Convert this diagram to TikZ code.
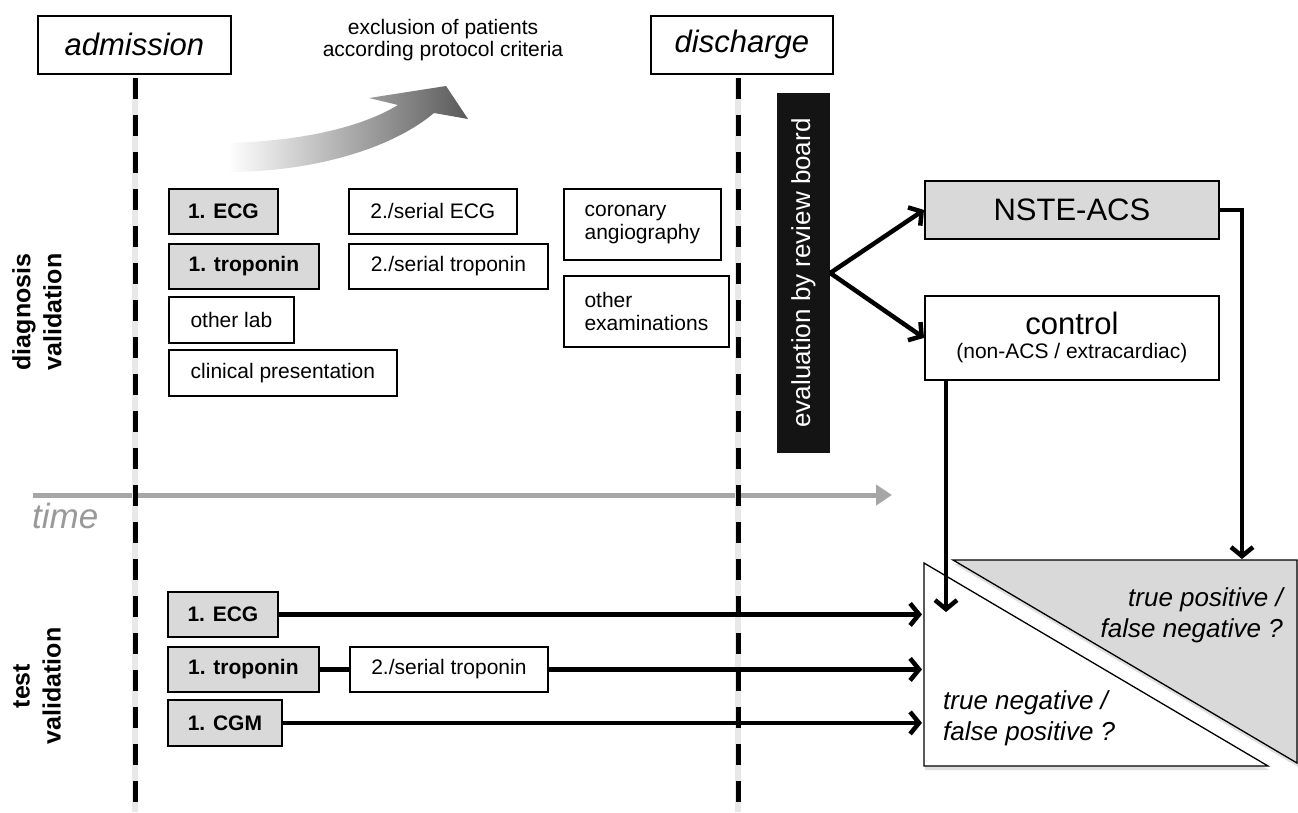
\documentclass[tikz,border=0pt]{standalone}
\usepackage{fontspec}
\setmainfont{Liberation Sans}
\usetikzlibrary{arrows.meta,shadows}
\tikzset{
  box/.style={draw, line width=1.8pt, anchor=north west, inner sep=0pt, align=center, font=\fontsize{21}{23}\selectfont},
  gbox/.style={box, fill=black!15, font=\fontsize{21}{23}\selectfont\bfseries},
  lbox/.style={box, align=left},
  conn/.style={line width=4.5pt, -{Straight Barb[length=9pt,width=22pt]}},
  plainconn/.style={line width=4.5pt},
  dline/.style={line width=5pt, dash pattern=on 21pt off 16pt},
  dshadow/.style={line width=6pt, black!9},
  sidelab/.style={rotate=90, align=center, inner sep=0pt, font=\bfseries\fontsize{25}{31}\selectfont},
  phase/.style={draw, line width=1.8pt, inner sep=0pt, minimum height=58pt, font=\itshape\fontsize{31}{34}\selectfont},
  tri/.style={line width=1.3pt},
  triText/.style={inner sep=0pt, font=\itshape\fontsize{26}{31}\selectfont},
}
\begin{document}
\begin{tikzpicture}[x=1pt,y=-1pt]
\useasboundingbox (0,0) rectangle (1298,812);

% time axis
\coordinate (timeS) at (33,495);
\coordinate (timeE) at (892,495);
\draw[line width=5pt, black!35, -{Triangle[length=16pt,width=20pt]}] (timeS) -- (timeE);
\node[anchor=base west, inner sep=0pt, text=black!40, font=\itshape\fontsize{35}{38}\selectfont] (timelab) at (32,528) {time};

% phase boxes
\node[phase, minimum width=193pt, anchor=north west] (adm) at (37,15) {admission};
\node[phase, minimum width=182pt, anchor=north west] (dis) at (650,15) {discharge};

% dashed time markers
\coordinate (admEnd) at (135,812);
\coordinate (disEnd) at (738,812);
\draw[dshadow] (135,78) -- (admEnd);
\draw[dshadow] (738,78) -- (disEnd);
\draw[dline] (135,78) -- (admEnd);
\draw[dline] (738,78) -- (disEnd);

% exclusion arrow
\shade[left color=white, right color=black!65]
  (228,143) .. controls (300,141) and (360,128) .. (398,105)
  -- (369,98) -- (446,86) -- (468,119) -- (434,113)
  .. controls (390,150) and (310,172) .. (228,172) -- cycle;
\node[anchor=north, inner sep=0pt, align=center, font=\fontsize{21}{22.5}\selectfont] (excl) at (443,19)
  {exclusion of patients\\according protocol criteria};

% side labels
\node[sidelab] (diaglab) at (37,312) {diagnosis\\validation};
\node[sidelab] (testlab) at (37,686) {test\\validation};

% diagnosis validation boxes
\node[gbox, minimum width=109pt, minimum height=45pt] (decg) at (168,188) {1. ECG};
\node[gbox, minimum width=150pt, minimum height=45pt] (dtrop) at (168,243) {1. troponin};
\node[box, minimum width=125pt, minimum height=46pt] (dlab) at (168,296) {other lab};
\node[box, minimum width=228pt, minimum height=46pt] (dclin) at (168,349) {clinical presentation};
\node[box, minimum width=168pt, minimum height=45pt] (dsecg) at (348,188) {2./serial ECG};
\node[box, minimum width=199pt, minimum height=45pt] (dstrop) at (348,243) {2./serial troponin};
\node[lbox, minimum width=157pt, minimum height=71pt] (dcor) at (563,188) {coronary\\angiography};
\node[lbox, minimum width=165pt, minimum height=71pt] (dexam) at (563,275) {other\\examinations};

% review board
\node[fill=black!92, text=white, rotate=90, minimum width=360pt, minimum height=53pt, inner sep=0pt,
      font=\fontsize{26}{28}\selectfont] (eval) at (803.5,273) {evaluation by review board};

\node[draw, line width=1.8pt, fill=black!15, anchor=north west, inner sep=0pt, minimum width=294pt,
      minimum height=58pt, font=\fontsize{31}{34}\selectfont] (nste) at (924,180) {NSTE-ACS};
\node[draw, line width=1.8pt, fill=white, anchor=north west, inner sep=0pt, minimum width=294pt,
      minimum height=84pt, align=center, font=\fontsize{21}{24}\selectfont] (ctrl) at (924,295)
      {{\fontsize{31}{33}\selectfont control}\\(non-ACS / extracardiac)};

\draw[conn] (eval.south) -- (nste.west);
\draw[conn] (eval.south) -- (ctrl.west);

% test validation boxes
\node[gbox, minimum width=110pt, minimum height=45pt] (tecg) at (167,591) {1. ECG};
\node[gbox, minimum width=151pt, minimum height=45pt] (ttrop) at (167,646) {1. troponin};
\node[box, minimum width=198pt, minimum height=45pt] (tstrop) at (349,646) {2./serial troponin};
\node[gbox, minimum width=114pt, minimum height=46pt] (tcgm) at (167,699) {1. CGM};

% outcome triangles
\draw[tri, fill=white, drop shadow={shadow xshift=1pt, shadow yshift=-4pt, opacity=0.25}]
  (924,563) -- (924,766) -- (1268,766) -- cycle;
\draw[tri, fill=black!15, drop shadow={shadow xshift=1pt, shadow yshift=-4pt, opacity=0.25}]
  (953,560) -- (1297,560) -- (1297,763) -- cycle;
\node[triText, anchor=north east, align=right] (tp) at (1283,587) {true positive /\\false negative ?};
\node[triText, anchor=north west, align=left] (tn) at (943,690) {true negative /\\false positive ?};

\coordinate (triLeft) at (922,0);
\coordinate (tpTop) at (1242,559);
\coordinate (tnTop) at (946,612);

\draw[plainconn] (ttrop.east) -- (tstrop.west);
\draw[conn] (tecg.east) -- (tecg.east -| triLeft);
\draw[conn] (tstrop.east) -- (tstrop.east -| triLeft);
\draw[conn] (tcgm.east) -- (tcgm.east -| triLeft);

\draw[conn] (nste.east) -| (tpTop);
\draw[conn] ([xshift=22pt]ctrl.south west) -- (tnTop);
\end{tikzpicture}
\end{document}
